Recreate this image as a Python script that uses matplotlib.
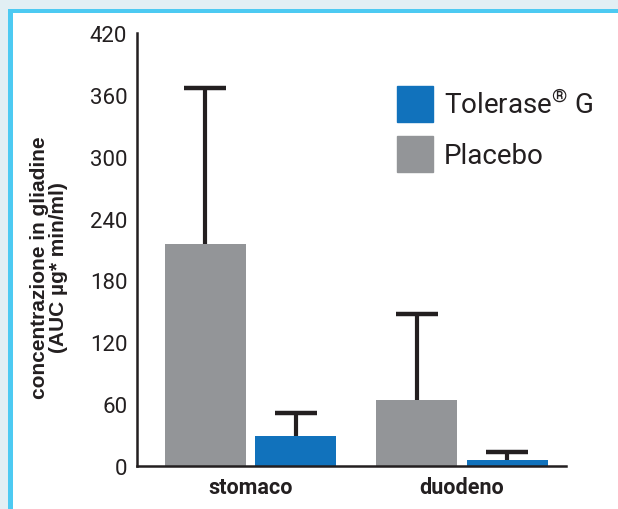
import matplotlib
matplotlib.use("Agg")
import matplotlib.pyplot as plt
from matplotlib.patches import Rectangle, Patch
import numpy as np

plt.rcParams["mathtext.fontset"] = "custom"
plt.rcParams["mathtext.rm"] = "Roboto"

# data
categories = ["stomaco", "duodeno"]
placebo = [215, 64]
placebo_err = [152, 83]
tolerase = [29, 6]
tolerase_err = [22, 8]
yticks = [0, 60, 120, 180, 240, 300, 360, 420]

blue = "#1172bc"
grey = "#939598"
ink = "#231f20"

W, H = 618, 510
fig = plt.figure(figsize=(W / 100, H / 100), dpi=100, facecolor="#e2eff4")

# cyan frame + white panel
fig.patches.append(Rectangle((8 / W, 0), 1, (H - 10) / H, transform=fig.transFigure,
                             facecolor="#4dcaf2", edgecolor="none", zorder=-2))
fig.patches.append(Rectangle((13 / W, 0), 1, (H - 14) / H, transform=fig.transFigure,
                             facecolor="white", edgecolor="none", zorder=-1))

# axes box in pixels: x 137..566, y 34..467
ax = fig.add_axes([137 / W, (H - 467) / H, (566 - 137) / W, (467 - 34) / H])
ax.set_facecolor("none")
ax.set_zorder(2)

x = np.arange(len(categories))
bw = 0.383
off = 0.214
err_kw = dict(fmt="none", ecolor=ink, elinewidth=3, capsize=15, capthick=3.2, zorder=1)

ax.bar(x - off, placebo, bw, color=grey, zorder=2)
ax.bar(x + off, tolerase, bw, color=blue, zorder=2)
for pos, vals, errs in [(x - off, placebo, placebo_err), (x + off, tolerase, tolerase_err)]:
    eb = ax.errorbar(pos, vals, yerr=[np.zeros(len(vals)), errs], **err_kw)
    eb[1][0].set_visible(False)  # only the upper cap

ax.set_xlim(-0.537, 1.492)
ax.set_ylim(0, 420)
ax.set_yticks(yticks)
ax.set_yticklabels([str(v) for v in yticks], fontfamily="Roboto", fontsize=16, color=ink)
ax.set_xticks(x)
ax.set_xticklabels(categories, fontfamily="Roboto", fontweight="bold", fontsize=15.5, color=ink)
ax.tick_params(axis="y", length=0, pad=7)
ax.tick_params(axis="x", length=0, pad=7)

for s in ["top", "right"]:
    ax.spines[s].set_visible(False)
for s in ["left", "bottom"]:
    ax.spines[s].set_color(ink)
    ax.spines[s].set_linewidth(1.8)

ax.set_ylabel("concentrazione in gliadine\n(AUC µg* min/ml)", fontfamily=["Liberation Sans Narrow", "Liberation Sans"],
              fontweight="bold", fontsize=15, color=ink, linespacing=1.0)
ax.yaxis.set_label_coords(-0.162, 0.46)

handles = [Patch(color=blue), Patch(color=grey)]
leg = fig.legend(handles, ["Tolerase$^{\\mathrm{®}}$ G", "Placebo"], loc="upper left",
                 bbox_to_anchor=(397 / W, (H - 87) / H), frameon=False, borderpad=0, borderaxespad=0,
                 handlelength=1.3, handleheight=1.63, handletextpad=0.4, labelspacing=0.5,
                 prop={"family": "Roboto", "size": 20}, labelcolor=ink)
leg.set_zorder(3)

fig.savefig("out.png", dpi=100, facecolor=fig.get_facecolor())
